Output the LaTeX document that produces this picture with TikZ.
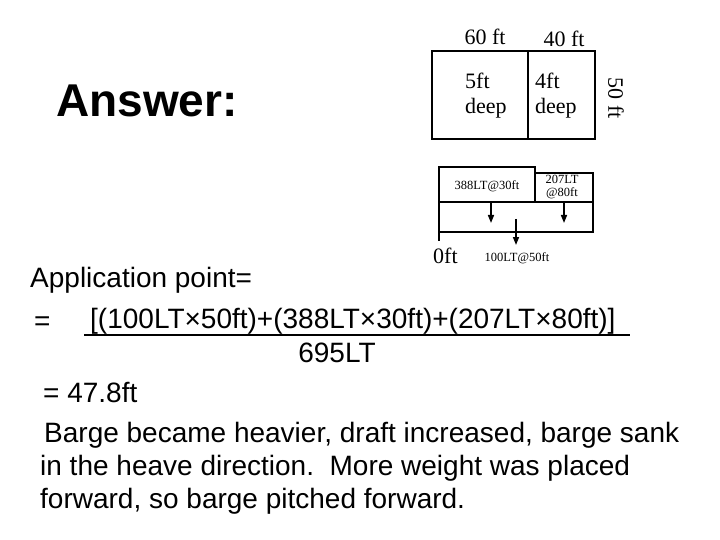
\documentclass[tikz,border=0pt]{standalone}
\usepackage{fontspec}
\setmainfont{Liberation Sans}
\newfontfamily\serifft{Liberation Serif}
\usetikzlibrary{arrows.meta}
\tikzset{
  txt/.style={inner sep=0pt, anchor=base west, font=\fontsize{28}{33}\selectfont},
  ser/.style={inner sep=0pt, anchor=base west, font=\serifft\fontsize{22}{25}\selectfont},
  sml/.style={inner sep=0pt, font=\serifft\fontsize{12.5}{14}\selectfont},
  box/.style={line width=2pt},
  load/.style={line width=1.5pt, -{Triangle[width=6pt,length=8pt]}}
}
\begin{document}
\begin{tikzpicture}[x=1pt,y=-1pt]
\useasboundingbox (0,0) rectangle (720,540);
% Answer
\node[inner sep=0pt, anchor=base west, font=\bfseries\fontsize{46}{50}\selectfont] (ans) at (56,117) {Answer:};
% top plan box
\draw[box] (432,51) rectangle (595,139);
\draw[box] (528,51) -- (528,139);
\node[ser, anchor=base] (l60) at (485,45) {60 ft};
\node[ser, anchor=base] (l40) at (564,47) {40 ft};
\node[ser] (d5a) at (465,89) {5ft};
\node[ser] (d5b) at (465,114) {deep};
\node[ser] (d4a) at (535,89) {4ft};
\node[ser] (d4b) at (535,114) {deep};
\node[ser, anchor=center, rotate=-90] (l50) at (616,98) {50 ft};
% load diagram
\draw[box] (439,202) -- (439,167) -- (535,167) -- (535,202);
\draw[box] (535,173) -- (593,173) -- (593,232) -- (439,232);
\draw[line width=2.5pt] (439,202) -- (593,202);
\draw[box] (439,167) -- (439,241);
\node[sml] (w388) at (487,186) {388LT@30ft};
\node[sml] (w207a) at (562,179) {207LT};
\node[sml] (w207b) at (562,193) {@80ft};
\coordinate (a1s) at (491,202); \coordinate (a1e) at (491,223);
\coordinate (a2s) at (564,202); \coordinate (a2e) at (564,223);
\coordinate (a3s) at (516,219); \coordinate (a3e) at (516,245);
\draw[load] (a1s) -- (a1e);
\draw[load] (a2s) -- (a2e);
\draw[load] (a3s) -- (a3e);
\node[ser] (zero) at (433,263) {0ft};
\node[sml] (w100) at (517,258) {100LT@50ft};
% equation
\node[txt] (app) at (30,287) {Application point=};
\node[txt] (eq1) at (34,330) {=};
\node[txt] (num) at (90,328) {[(100LT×50ft)+(388LT×30ft)+(207LT×80ft)]};
\draw[line width=1.5pt] (84,335) -- (630,335);
\node[txt, anchor=base] (den) at (337,362) {695LT};
\node[txt] (res) at (43,402) {= 47.8ft};
\node[txt] (t1) at (44,442) {Barge became heavier, draft increased, barge sank};
\node[txt] (t2) at (40,475) {in the heave direction.\ \ More weight was placed};
\node[txt] (t3) at (40,508) {forward, so barge pitched forward.};
\end{tikzpicture}
\end{document}
